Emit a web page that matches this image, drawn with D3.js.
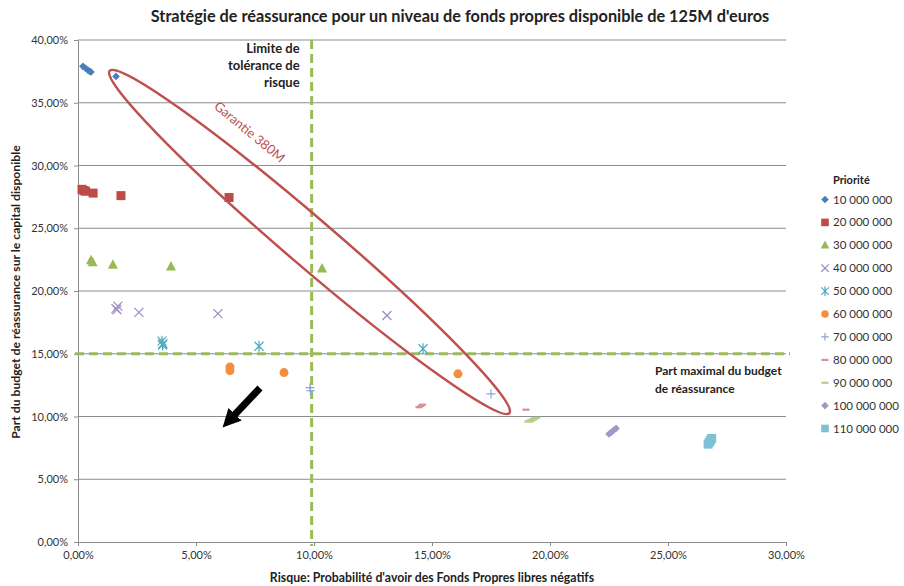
<!DOCTYPE html>
<meta charset="utf-8">
<script src="https://d3js.org/d3.v7.min.js"></script>
<style>
  body { margin: 0; background: #fff; }
  text { font-family: Lato, "Open Sans", sans-serif; }
</style>
<div id="my_dataviz"></div>
<script>

// values (percent)
var priorities = ["10 000 000", "20 000 000", "30 000 000", "40 000 000", "50 000 000", "60 000 000",
                  "70 000 000", "80 000 000", "90 000 000", "100 000 000", "110 000 000"];

var risk10  = [0.21, 0.32, 0.42, 0.50, 0.55, 1.61];
var share10 = [37.9, 37.75, 37.6, 37.5, 37.45, 37.1];
var risk20  = [0.17, 0.25, 0.32, 0.64, 1.82, 6.40];
var share20 = [28.1, 28.0, 27.95, 27.8, 27.6, 27.45];
var risk30  = [0.55, 0.62, 1.48, 3.94, 10.34];
var share30 = [22.45, 22.3, 22.1, 21.95, 21.8];
var risk40  = [1.61, 1.69, 1.65, 2.58, 5.93, 13.09];
var share40 = [18.6, 18.8, 18.5, 18.3, 18.2, 18.05];
var risk50  = [3.56, 3.60, 3.58, 7.67, 14.62];
var share50 = [16.0, 15.8, 15.7, 15.6, 15.4];
var risk60  = [6.44, 6.44, 8.73, 16.10];
var share60 = [13.95, 13.65, 13.5, 13.4];
var risk70  = [9.83, 9.85, 17.50];
var share70 = [12.3, 12.05, 11.8];
var risk80  = [14.45, 14.53, 14.60, 18.98];
var share80 = [10.75, 10.85, 10.95, 10.55];
var risk90  = [19.1, 19.2, 19.3, 19.4];
var share90 = [9.6, 9.7, 9.8, 9.9];
var risk100  = [22.5, 22.6, 22.7, 22.8];
var share100 = [8.6, 8.75, 8.9, 9.05];
var risk110  = [26.7, 26.75, 26.8, 26.85];
var share110 = [7.8, 7.95, 8.1, 8.25];

var xTicks = [0, 5, 10, 15, 20, 25, 30];
var yTicks = [0, 5, 10, 15, 20, 25, 30, 35, 40];

var riskLimit = 9.9;      // vertical dashed line
var budgetLimit = 15.0;   // horizontal dashed line

// ellipse "Garantie 380M": the two tips, in data units
var ellipseTips = [[1.31, 37.6], [18.31, 10.22]];
// arrow, in data units (line end, the head goes a bit further)
var arrowFrom = [7.71, 12.27];
var arrowTo = [6.55, 9.96];

var risks = [risk10, risk20, risk30, risk40, risk50, risk60, risk70, risk80, risk90, risk100, risk110];
var shares = [share10, share20, share30, share40, share50, share60, share70, share80, share90, share100, share110];

// marker look for each series
var colors = ["#4a7ebb", "#be4b48", "#98b954", "#9d8bc2", "#4bacc6", "#f38e3f",
              "#8ba6d6", "#dc8e94", "#b5cf8a", "#a596c8", "#7fc0d6"];
var shapes = ["diamond", "square", "triangle", "x", "star", "circle",
              "plus", "dash", "dash", "diamond", "square"];

var W = 904, H = 586;

var svg = d3.select("#my_dataviz")
  .append("svg")
    .attr("width", W)
    .attr("height", H);

var x = d3.scaleLinear().domain([0, 30]).range([78, 786]);
var y = d3.scaleLinear().domain([0, 40]).range([542, 40]);

var fmt = function(v) { return v.toFixed(2).replace(".", ",") + "%"; };

// title
svg.append("text")
  .attr("x", 460).attr("y", 22)
  .attr("text-anchor", "middle")
  .style("font-size", "16.3px").style("font-weight", "bold")
  .style("fill", "#222")
  .text("Stratégie de réassurance pour un niveau de fonds propres disponible de 125M d'euros");

// gridlines
svg.append("g")
  .selectAll("line")
  .data(yTicks.filter(function(d){ return d > 0; }))
  .enter()
  .append("line")
    .attr("x1", x(0)).attr("x2", x(30))
    .attr("y1", function(d){ return y(d); }).attr("y2", function(d){ return y(d); })
    .style("stroke", "#8c8c8c").style("stroke-width", 1);

// axes
var xAxis = svg.append("g")
  .attr("transform", "translate(0," + y(0) + ")")
  .call(d3.axisBottom(x).tickValues(xTicks).tickFormat(fmt).tickSize(4).tickSizeOuter(0));
var yAxis = svg.append("g")
  .attr("transform", "translate(" + x(0) + ",0)")
  .call(d3.axisLeft(y).tickValues(yTicks).tickFormat(fmt).tickSize(4).tickSizeOuter(0));

[xAxis, yAxis].forEach(function(a) {
  a.select(".domain").style("stroke", "#8c8c8c");
  a.selectAll(".tick line").style("stroke", "#8c8c8c");
  a.selectAll("text").style("font-family", "Lato, sans-serif").style("font-size", "11px").style("fill", "#333");
});
xAxis.selectAll("text").attr("dy", "0.95em").attr("y", 7);
yAxis.selectAll("text").attr("x", -10);

// axis titles
svg.append("text")
  .attr("x", 432).attr("y", 582)
  .attr("text-anchor", "middle")
  .style("font-size", "12.3px").style("font-weight", "bold").style("fill", "#222")
  .text("Risque: Probabilité d'avoir des Fonds Propres libres négatifs");

svg.append("text")
  .attr("transform", "rotate(-90)")
  .attr("x", -292).attr("y", 20)
  .attr("text-anchor", "middle")
  .style("font-size", "12.2px").style("font-weight", "bold").style("fill", "#222")
  .text("Part du budget de réassurance sur le capital disponible");

// limit lines
svg.append("line")
  .attr("x1", x(riskLimit)).attr("x2", x(riskLimit))
  .attr("y1", y(40)).attr("y2", y(0) + 4)
  .style("stroke", "#9bbb59").style("stroke-width", 3)
  .style("stroke-dasharray", "9,5");

svg.append("line")
  .attr("x1", x(0) - 3).attr("x2", x(30) + 4)
  .attr("y1", y(budgetLimit)).attr("y2", y(budgetLimit))
  .style("stroke", "#9bbb59").style("stroke-width", 3)
  .style("stroke-dasharray", "9,5");

// limit labels
var lim = svg.append("text")
  .attr("text-anchor", "end")
  .style("font-size", "13px").style("font-weight", "bold").style("fill", "#222");
["Limite de", "tolérance de", "risque"].forEach(function(t, i) {
  lim.append("tspan").attr("x", x(riskLimit) - 12).attr("y", 53 + i * 17).text(t);
});

var bud = svg.append("text")
  .attr("text-anchor", "start")
  .style("font-size", "12px").style("font-weight", "bold").style("fill", "#222");
["Part maximal du budget", "de réassurance"].forEach(function(t, i) {
  bud.append("tspan").attr("x", 655).attr("y", y(budgetLimit) + 21 + i * 18).text(t);
});

// marker drawing
function drawMarker(g, shape, color, s) {
  if (shape === "diamond") {
    g.append("path").attr("d", "M0," + (-s) + "L" + s + ",0L0," + s + "L" + (-s) + ",0Z").style("fill", color);
  } else if (shape === "square") {
    g.append("rect").attr("x", -s).attr("y", -s).attr("width", 2 * s).attr("height", 2 * s).style("fill", color);
  } else if (shape === "triangle") {
    g.append("path").attr("d", "M0," + (-s - 1) + "L" + (s + 0.5) + "," + (s - 0.5) + "L" + (-s - 0.5) + "," + (s - 0.5) + "Z").style("fill", color);
  } else if (shape === "circle") {
    g.append("circle").attr("r", s).style("fill", color);
  } else if (shape === "x") {
    g.append("path").attr("d", "M" + (-s) + "," + (-s) + "L" + s + "," + s + "M" + s + "," + (-s) + "L" + (-s) + "," + s)
      .style("stroke", color).style("stroke-width", 1.2).style("fill", "none");
  } else if (shape === "star") {
    g.append("path").attr("d", "M" + (-s) + "," + (-s) + "L" + s + "," + s + "M" + s + "," + (-s) + "L" + (-s) + "," + s + "M0," + (-s - 1) + "L0," + (s + 1))
      .style("stroke", color).style("stroke-width", 1.2).style("fill", "none");
  } else if (shape === "plus") {
    g.append("path").attr("d", "M" + (-s) + ",0L" + s + ",0M0," + (-s) + "L0," + s)
      .style("stroke", color).style("stroke-width", 1.2).style("fill", "none");
  } else if (shape === "dash") {
    g.append("rect").attr("x", -s).attr("y", -1).attr("width", 2 * s).attr("height", 2.2).style("fill", color);
  }
}
var sizes = [3.8, 4.5, 4.5, 4.5, 4.5, 4.5, 4.5, 3.5, 4.5, 3.8, 4.5];

// points
risks.forEach(function(rs, i) {
  var pts = rs.map(function(r, j) { return {r: r, s: shares[i][j]}; });
  var g = svg.append("g");
  pts.forEach(function(p) {
    var m = g.append("g").attr("transform", "translate(" + x(p.r) + "," + y(p.s) + ")");
    drawMarker(m, shapes[i], colors[i], sizes[i]);
  });
});

// ellipse
var p1 = [x(ellipseTips[0][0]), y(ellipseTips[0][1])];
var p2 = [x(ellipseTips[1][0]), y(ellipseTips[1][1])];
var cx = (p1[0] + p2[0]) / 2, cy = (p1[1] + p2[1]) / 2;
var rx = Math.hypot(p2[0] - p1[0], p2[1] - p1[1]) / 2 - 1;
var ang = Math.atan2(p2[1] - p1[1], p2[0] - p1[0]) * 180 / Math.PI;
svg.append("ellipse")
  .attr("cx", cx).attr("cy", cy)
  .attr("rx", rx).attr("ry", 24)
  .attr("transform", "rotate(" + ang + "," + cx + "," + cy + ")")
  .style("fill", "none").style("stroke", "#c0504d").style("stroke-width", 2.5);

svg.append("text")
  .attr("transform", "translate(" + x(7.15) + "," + y(32.4) + ") rotate(" + (ang - 1) + ")")
  .attr("text-anchor", "middle")
  .style("font-size", "13px").style("fill", "#c0504d")
  .text("Garantie 380M");

// arrow
svg.append("defs").append("marker")
  .attr("id", "head")
  .attr("viewBox", "0 0 10 10")
  .attr("refX", 2).attr("refY", 5)
  .attr("markerWidth", 2.6).attr("markerHeight", 2.8)
  .attr("orient", "auto")
  .append("path").attr("d", "M0,0L10,5L0,10Z").style("fill", "#000");

var a1 = [x(arrowFrom[0]), y(arrowFrom[1])];
var a2 = [x(arrowTo[0]), y(arrowTo[1])];
svg.append("line")
  .attr("x1", a1[0]).attr("y1", a1[1])
  .attr("x2", a2[0]).attr("y2", a2[1])
  .style("stroke", "#000").style("stroke-width", 7)
  .attr("marker-end", "url(#head)");

// legend
var lg = svg.append("g");
lg.append("text")
  .attr("x", 833).attr("y", 184)
  .style("font-size", "11px").style("font-weight", "bold").style("fill", "#222")
  .text("Priorité");
priorities.forEach(function(p, i) {
  var yy = 199.5 + i * 22.9;
  var m = lg.append("g").attr("transform", "translate(825," + yy + ")");
  drawMarker(m, shapes[i], colors[i], shapes[i] === "dash" ? 3.5 : 3.8);
  lg.append("text")
    .attr("x", 833).attr("y", yy + 4)
    .style("font-size", "11.5px").style("fill", "#333")
    .text(p);
});

</script>
